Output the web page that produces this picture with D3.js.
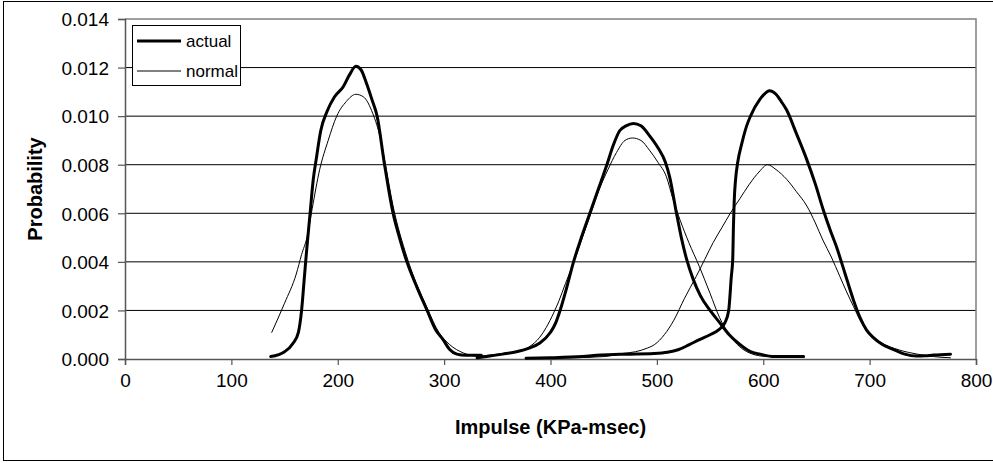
<!DOCTYPE html>
<html lang="en">
  <head>
    <meta charset="UTF-8" />
    <title>Impulse probability</title>
    <style>
      body { margin: 0; background: #fff; }
      svg { font-family: "Liberation Sans", Arial, sans-serif; }
      .line-path { fill: none; stroke: #000; stroke-linejoin: round; stroke-linecap: round; }
    </style>
  </head>
  <body>
    <script src="https://d3js.org/d3.v7.min.js"></script>
    <script>
      // [impulse, probability]
      const actualLow = [
        [137, 0.0001], [150, 0.0003], [158, 0.00065], [163, 0.0011], [166, 0.002],
        [168.5, 0.0033], [171, 0.0046], [174, 0.006], [177, 0.0074], [180, 0.0083],
        [184, 0.0094], [190, 0.0102], [197, 0.0108], [205, 0.0112], [211, 0.0117],
        [217, 0.01205], [222, 0.0119], [227, 0.01135], [232, 0.0107], [237, 0.01],
        [244, 0.008], [252, 0.006], [258, 0.005], [265, 0.004], [274, 0.003],
        [284, 0.002], [292, 0.0012], [299, 0.0008], [305, 0.0004], [312, 0.0002],
        [320, 0.00015], [335, 0.00015]
      ];
      const normalLow = [
        [138, 0.0011], [150, 0.0023], [161, 0.0035], [166, 0.0043], [171, 0.005],
        [176, 0.0062], [183, 0.0078], [191, 0.009], [199, 0.01], [208, 0.0106],
        [217, 0.0109], [224, 0.0108], [233, 0.0101], [240, 0.0091], [244, 0.0082],
        [252, 0.0063], [265, 0.0042], [284, 0.0021], [295, 0.0011], [305, 0.0006],
        [318, 0.00025], [333, 0.0001]
      ];
      const actualMid = [
        [331, 0.00005], [340, 0.0001], [355, 0.0002], [368, 0.0003], [380, 0.00045],
        [390, 0.00066], [400, 0.0011], [405, 0.0015], [409, 0.002], [415, 0.0029],
        [421, 0.0039], [429, 0.005], [437, 0.006], [445, 0.007], [453, 0.008],
        [459, 0.0088], [465, 0.0094], [471, 0.0096], [478, 0.0097], [485, 0.0096],
        [493, 0.0092], [501, 0.0087], [508, 0.0081], [512, 0.0075], [518, 0.0061],
        [523, 0.005], [528, 0.0041], [534, 0.0033], [541, 0.0026], [550, 0.002],
        [559, 0.0015], [568, 0.001], [578, 0.0006], [588, 0.0003], [597, 0.0002],
        [610, 0.0001], [638, 0.0001]
      ];
      const normalMid = [
        [331, 0.0001], [350, 0.0002], [370, 0.0003], [380, 0.0005], [390, 0.0009],
        [396, 0.0013], [403, 0.0019], [408, 0.0024], [414, 0.0031], [422, 0.004],
        [430, 0.005], [438, 0.006], [446, 0.007], [454, 0.0078], [462, 0.0085],
        [470, 0.009], [477, 0.0091], [485, 0.009], [493, 0.0086], [501, 0.0081],
        [509, 0.0075], [515, 0.0066], [522, 0.0057], [530, 0.0048], [540, 0.0038],
        [550, 0.0027], [559, 0.0017], [568, 0.001], [578, 0.0005], [590, 0.0002],
        [603, 0.0001]
      ];
      const actualHigh = [
        [377, 0.00003], [400, 0.00005], [430, 0.0001], [447, 0.00016], [470, 0.0002],
        [497, 0.00023], [510, 0.00028], [520, 0.00038], [530, 0.00058], [540, 0.0008],
        [550, 0.001], [558, 0.0012], [564, 0.0015], [567.5, 0.002], [570, 0.0034],
        [571.3, 0.0041], [572, 0.0055], [572.7, 0.0065], [574, 0.0074], [576, 0.0081],
        [580, 0.0089], [584.4, 0.0096], [588, 0.01], [597, 0.0107], [606, 0.01105],
        [612, 0.0109], [617, 0.0106], [622, 0.01025], [631, 0.0093], [641, 0.0082],
        [649, 0.0072], [656, 0.0062], [663, 0.0053], [669, 0.0046], [677, 0.0035],
        [685, 0.0024], [691, 0.0017], [697, 0.0012], [703, 0.0009], [712, 0.0006],
        [722, 0.0004], [733, 0.0002], [744, 0.00012], [752, 0.00013], [760, 0.00016],
        [776, 0.0002]
      ];
      const normalHigh = [
        [377, 0.00002], [420, 0.00005], [450, 0.0001], [468, 0.00023], [480, 0.0003],
        [491, 0.00045], [498, 0.0006], [507, 0.001], [516, 0.0016], [526, 0.0025],
        [537, 0.0034], [545, 0.0041], [553, 0.0048], [561, 0.0054], [569, 0.006],
        [578, 0.0066], [587, 0.0072], [596, 0.0077], [604, 0.008], [612, 0.0078],
        [622, 0.0074], [631, 0.0069], [641, 0.0063], [649, 0.0056], [656, 0.0049],
        [664, 0.0042], [672, 0.0034], [678, 0.0028], [685, 0.00215], [691, 0.0016],
        [697, 0.0012], [710, 0.0007], [728, 0.00037], [745, 0.0002], [760, 0.0001],
        [776, 0.00005]
      ];

      const xTicks = [0, 100, 200, 300, 400, 500, 600, 700, 800];
      const yTicks = [0, 0.002, 0.004, 0.006, 0.008, 0.01, 0.012, 0.014];
      const seriesNames = ["actual", "normal"];

      const series = [
        { name: "actual", values: actualLow },
        { name: "normal", values: normalLow },
        { name: "actual", values: actualMid },
        { name: "normal", values: normalMid },
        { name: "actual", values: actualHigh },
        { name: "normal", values: normalHigh },
      ];
      const strokeFor = { actual: 3, normal: 1 };

      function makeChart() {
        const width = 993;
        const height = 463;
        const plot = { left: 125, right: 976, top: 19, bottom: 359 };

        const svg = d3
          .select("body")
          .append("svg")
          .attr("width", width)
          .attr("height", height);

        // outer chart frame (right edge falls off the picture)
        svg.append("rect")
          .attr("x", 3.5).attr("y", 1.5)
          .attr("width", 1000).attr("height", 459)
          .attr("fill", "#fff").attr("stroke", "#000");

        const xScale = d3.scaleLinear().domain([0, 800]).range([plot.left, plot.right]);
        const yScale = d3.scaleLinear().domain([0, 0.014]).range([plot.bottom, plot.top]);

        // gridlines
        svg.append("g")
          .selectAll("line")
          .data(yTicks.slice(1, -1))
          .join("line")
          .attr("x1", plot.left).attr("x2", plot.right)
          .attr("y1", (d) => yScale(d)).attr("y2", (d) => yScale(d))
          .attr("stroke", "#000").attr("stroke-width", 1);

        // plot border top/right
        svg.append("path")
          .attr("d", `M${plot.left},${plot.top}H${plot.right}V${plot.bottom}`)
          .attr("fill", "none").attr("stroke", "#808080").attr("stroke-width", 1.5);

        const xAxis = d3.axisBottom(xScale).tickValues(xTicks).tickSize(6).tickPadding(9)
          .tickFormat(d3.format("d"));
        const yAxis = d3.axisLeft(yScale).tickValues(yTicks).tickSize(7).tickPadding(9)
          .tickFormat(d3.format(".3f"));

        const gx = svg.append("g")
          .attr("transform", `translate(0, ${plot.bottom})`)
          .call(xAxis);
        const gy = svg.append("g")
          .attr("transform", `translate(${plot.left}, 0)`)
          .call(yAxis);

        [gx, gy].forEach((g) => {
          g.select(".domain").attr("stroke", "#555").attr("stroke-width", 1.5);
          g.selectAll(".tick line").attr("stroke", "#555").attr("stroke-width", 1.2);
          g.selectAll("text")
            .attr("fill", "#000")
            .style("font-size", "19px")
            .style("font-family", "'Liberation Sans', Arial, sans-serif");
        });
        gy.selectAll("text").attr("dy", "0.36em");

        const line = d3
          .line()
          .curve(d3.curveMonotoneX)
          .x((d) => xScale(d[0]))
          .y((d) => yScale(d[1]));

        svg.append("g")
          .selectAll("path")
          .data(series)
          .join("path")
          .attr("class", "line-path")
          .attr("d", (d) => line(d.values))
          .attr("stroke-width", (d) => strokeFor[d.name]);

        // axis titles
        svg.append("text")
          .attr("x", (plot.left + plot.right) / 2)
          .attr("y", 434)
          .attr("text-anchor", "middle")
          .style("font-size", "20px")
          .style("font-weight", "bold")
          .text("Impulse (KPa-msec)");

        svg.append("text")
          .attr("transform", `translate(42, ${(plot.top + plot.bottom) / 2}) rotate(-90)`)
          .attr("text-anchor", "middle")
          .style("font-size", "20px")
          .style("font-weight", "bold")
          .text("Probability");

        // legend
        const legend = svg.append("g");
        legend.append("rect")
          .attr("x", 132.5).attr("y", 25.5)
          .attr("width", 108).attr("height", 60)
          .attr("fill", "#fff").attr("stroke", "#000");

        const item = legend.selectAll("g")
          .data(seriesNames)
          .join("g")
          .attr("transform", (d, i) => `translate(0, ${41 + i * 30})`);
        item.append("line")
          .attr("x1", 137).attr("x2", 181)
          .attr("stroke", "#000")
          .attr("stroke-width", (d) => strokeFor[d]);
        item.append("text")
          .attr("x", 186).attr("y", 5.5)
          .style("font-size", "17px")
          .text((d) => d);
      }

      makeChart();
    </script>
  </body>
</html>
